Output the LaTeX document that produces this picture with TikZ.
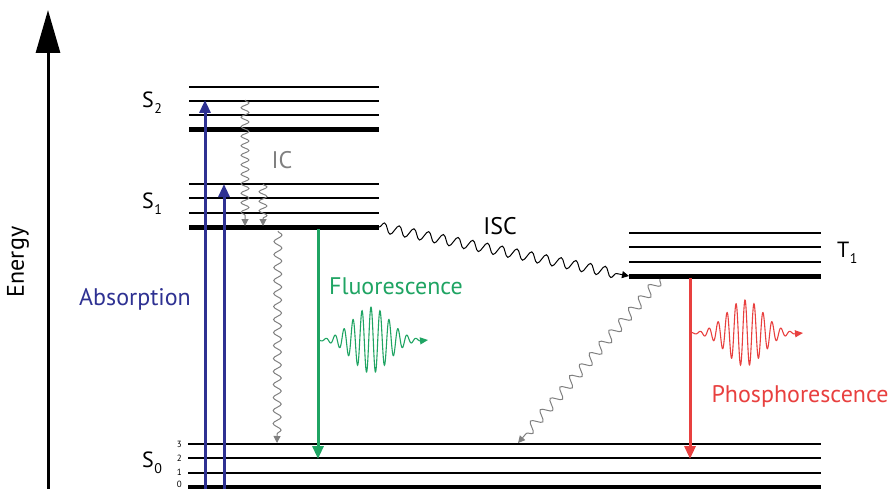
\documentclass[tikz,border=0pt]{standalone}
\usepackage{fontspec}
\setmainfont{PT Sans}
\usetikzlibrary{arrows.meta,decorations.pathmorphing}
\definecolor{absblue}{HTML}{2E3192}
\definecolor{flgreen}{HTML}{1FA463}
\definecolor{phred}{HTML}{E8403F}
\definecolor{icgray}{HTML}{808080}
\begin{document}
\begin{tikzpicture}[x=1pt,y=-1pt,
  thinlvl/.style={line width=1.3pt},
  thicklvl/.style={line width=5pt},
  lbl/.style={font=\fontsize{24}{26}\selectfont, inner sep=0pt},
  statelbl/.style={font=\fontsize{22}{24}\selectfont, inner sep=0pt, anchor=base west},
  vib/.style={font=\fontsize{9}{9}\selectfont, inner sep=0pt, anchor=east},
  radarrow/.style={line width=3pt, -{Triangle[length=13pt,width=11pt]}},
  wavyarrow/.style={line width=1pt, -{Triangle[length=7pt,width=7pt]},
     decorate, decoration={snake, segment length=9.5pt, amplitude=4pt, post length=7pt}},
]
\useasboundingbox (0,0) rectangle (890,489);

% Energy axis
\coordinate (eb) at (48,492);
\coordinate (et) at (48,10);
\draw[line width=3pt, -{Triangle[length=43pt,width=24pt]}] (eb) -- (et);
\node[lbl, rotate=90] (energy) at (18,262) {Energy};

% S2 levels
\foreach \y in {87,101,115} \draw[thinlvl] (189,\y) -- (379,\y);
\draw[thicklvl] (189,130) -- (379,130);
% S1 levels
\foreach \y in {184,198,213} \draw[thinlvl] (189,\y) -- (379,\y);
\draw[thicklvl] (189,227) -- (379,227);
% T1 levels
\foreach \y in {233,247,262} \draw[thinlvl] (629,\y) -- (821,\y);
\draw[thicklvl] (629,276) -- (821,276);
% S0 levels
\foreach \y in {444,458,473} \draw[thinlvl] (188,\y) -- (821,\y);
\draw[thicklvl] (188,487.5) -- (821,487.5);
\node[vib] (v3) at (182,444) {3};
\node[vib] (v2) at (182,458) {2};
\node[vib] (v1) at (182,472) {1};
\node[vib] (v0) at (182,484.5) {0};

% state labels
\node[statelbl] (S2) at (142,108) {S\kern0.5pt\raisebox{-6pt}{\fontsize{14}{14}\selectfont 2}};
\node[statelbl] (S1) at (142,208) {S\kern0.5pt\raisebox{-6pt}{\fontsize{14}{14}\selectfont 1}};
\node[statelbl] (S0) at (142,467) {S\kern0.5pt\raisebox{-6pt}{\fontsize{14}{14}\selectfont 0}};
\node[statelbl] (T1) at (837,257) {T\kern0.5pt\raisebox{-6pt}{\fontsize{14}{14}\selectfont 1}};

% absorption
\coordinate (a1s) at (205,489);
\coordinate (a1e) at (205,100);
\coordinate (a2s) at (224,489);
\coordinate (a2e) at (224,184);
\draw[radarrow, absblue] (a1s) -- (a1e);
\draw[radarrow, absblue] (a2s) -- (a2e);
\node[lbl, absblue] (abs) at (135,299) {Absorption};

% fluorescence
\coordinate (fs) at (318,229);
\coordinate (fe) at (318,459);
\draw[radarrow, flgreen] (fs) -- (fe);
\node[lbl, flgreen] (fl) at (396,286) {Fluorescence};
\draw[flgreen, line width=1.1pt, -{Triangle[length=8pt,width=7pt]}]
  plot[domain=320:420, samples=400, smooth] (\x, {340 - 33*exp(-((\x-371)/26)^2)*cos(40*(\x-371))}) -- (428,340);

% phosphorescence
\coordinate (ps) at (690,278);
\coordinate (pe) at (690,459);
\draw[radarrow, phred] (ps) -- (pe);
\node[lbl, phred] (ph) at (800,396) {Phosphorescence};
\draw[phred, line width=1.1pt, -{Triangle[length=8pt,width=7pt]}]
  plot[domain=692:795, samples=400, smooth] (\x, {333 - 33*exp(-((\x-745)/26)^2)*cos(40*(\x-745))}) -- (803,333);

% internal conversion
\coordinate (ic1s) at (245,100);
\coordinate (ic1e) at (245,226);
\coordinate (ic2s) at (263,184);
\coordinate (ic2e) at (263,226);
\coordinate (ic3s) at (278,231);
\coordinate (ic3e) at (277,443);
\draw[wavyarrow, icgray] (ic1s) -- (ic1e);
\draw[wavyarrow, icgray] (ic2s) -- (ic2e);
\draw[wavyarrow, icgray, decoration={snake, segment length=13pt, amplitude=4pt, post length=7pt}] (ic3s) -- (ic3e);
\node[lbl, icgray] (IC) at (282,160) {IC};

% ISC
\coordinate (iscs) at (379,227);
\coordinate (isce) at (629,276);
\draw[wavyarrow, black, decoration={snake, segment length=15pt, amplitude=5pt, post length=7pt}] (iscs) -- (isce);
\node[lbl] (ISC) at (500,226) {ISC};

% T1 nonradiative
\coordinate (tns) at (660,279);
\coordinate (tne) at (518,443);
\draw[wavyarrow, icgray, decoration={snake, segment length=15pt, amplitude=5pt, post length=7pt}] (tns) -- (tne);
\end{tikzpicture}
\end{document}
